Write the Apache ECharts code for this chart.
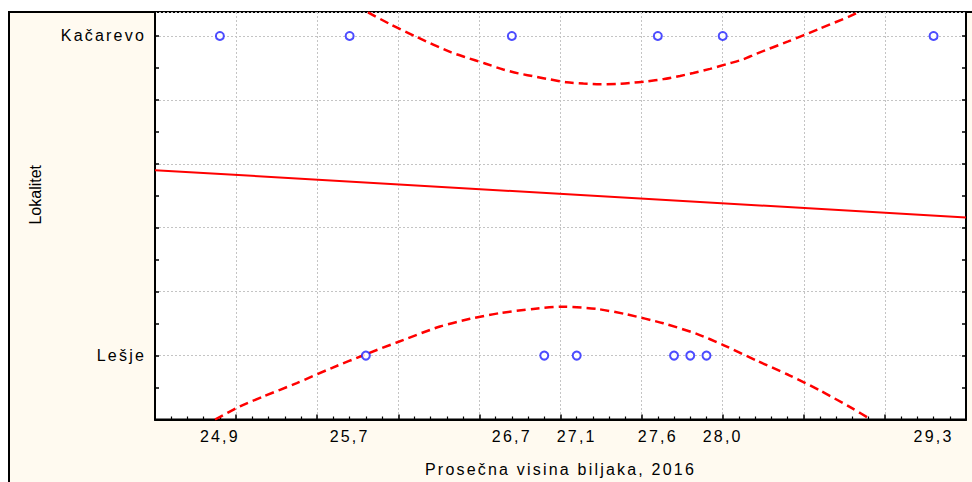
<!DOCTYPE html>
<html>
<head>
<meta charset="utf-8">
<title>Lokalitet</title>
<script src="https://cdn.jsdelivr.net/npm/echarts@6/dist/echarts.min.js"></script>
<style>
html,body{margin:0;padding:0;background:#fff;}
#main{width:972px;height:482px;}
</style>
</head>
<body>
<div id="main"></div>
<script>
// podaci
var kacarevoX = [24.9, 25.7, 26.7, 27.6, 28.0, 29.3];
var lesjeX = [25.8, 26.9, 27.1, 27.7, 27.8, 27.9];
var lokaliteti = ['Lešje', 'Kačarevo'];
var lokalitetKod = [1, 2];
var xTickLabels = [24.9, 25.7, 26.7, 27.1, 27.6, 28.0, 29.3];
// regresiona prava
var regX = [24.5, 29.5];
var regY = [1.58, 1.432];
// granice intervala poverenja (ocitano sa slike)
var gornjaX = [25.813, 25.949, 26.113, 26.319, 26.411, 26.535, 26.647, 26.740, 26.853, 26.935, 27.038, 27.141, 27.244, 27.347, 27.429, 27.532, 27.634, 27.737, 27.819, 27.922, 28.025, 28.127, 28.210, 28.404, 28.589, 28.785, 28.834];
var gornjaY = [2.074, 2.037, 1.997, 1.950, 1.934, 1.914, 1.895, 1.883, 1.872, 1.864, 1.855, 1.851, 1.849, 1.850, 1.853, 1.858, 1.865, 1.875, 1.884, 1.897, 1.912, 1.927, 1.945, 1.983, 2.021, 2.062, 2.074];
var donjaX = [24.870, 25.024, 25.168, 25.374, 25.589, 25.805, 25.990, 26.257, 26.442, 26.627, 26.832, 27.017, 27.223, 27.408, 27.634, 27.840, 28.004, 28.210, 28.404, 28.603, 28.805, 28.908];
var donjaY = [0.800, 0.841, 0.872, 0.914, 0.961, 1.005, 1.041, 1.091, 1.115, 1.133, 1.146, 1.153, 1.146, 1.129, 1.101, 1.068, 1.033, 0.984, 0.940, 0.890, 0.833, 0.802];

var xTitle = 'Prosečna visina biljaka, 2016';
var yTitle = 'Lokalitet';
var font = 'Liberation Sans, Arial, sans-serif';

var zip = function(xs, ys){
    var out = [];
    for(var i=0;i<xs.length;i++){
        out.push([xs[i], ys[i]]);
    }
    return out;
};
var naLokalitet = function(xs, kod){
    var out = [];
    for(var i=0;i<xs.length;i++){
        out.push([xs[i], kod]);
    }
    return out;
};

// pozicije crtica na y osi
var yTicks = [];
for(var i=9;i<=20;i++){
    yTicks.push(i/10);
}

var chart = echarts.init(document.getElementById('main'), null, {renderer: 'svg'});

var gridLine = {show: true, lineStyle: {color: '#c4c4c4', width: 1, type: [2, 2]}};
var yAxisBase = {
    type: 'value',
    min: 0.8,
    max: 2.075,
    interval: 0.2,
    axisLine: {show: true, lineStyle: {color: '#000', width: 2}},
    axisTick: {show: true, inside: true, length: 4, customValues: yTicks, lineStyle: {color: '#000', width: 1.5}},
    minorTick: {show: false},
    splitLine: {show: false}
};

var option = {
    animation: false,
    backgroundColor: 'transparent',
    graphic: [{
        type: 'rect',
        z: -1,
        shape: {x: 9, y: 12, width: 1000, height: 500},
        style: {fill: '#fffaf0', stroke: '#000', lineWidth: 2}
    }],
    grid: {
        left: 155,
        top: 12,
        right: 6,
        bottom: 62.5,
        show: true,
        backgroundColor: '#fff',
        borderColor: '#000',
        borderWidth: 2,
        outerBoundsMode: 'none'
    },
    xAxis: {
        type: 'value',
        min: 24.5,
        max: 29.5,
        interval: 0.5,
        name: xTitle,
        nameLocation: 'middle',
        nameGap: 42,
        nameTextStyle: {fontFamily: font, fontSize: 16, color: '#000'},
        axisLine: {show: true, onZero: false, lineStyle: {color: '#000', width: 2}},
        axisTick: {show: true, inside: true, length: 5, lineStyle: {color: '#000', width: 1.5}},
        minorTick: {show: true, splitNumber: 5, length: 3, lineStyle: {color: '#000', width: 1.2}},
        splitLine: gridLine,
        axisLabel: {
            customValues: xTickLabels,
            margin: 9,
            fontFamily: font,
            fontSize: 16,
            color: '#000',
            formatter: function(v){ return v.toFixed(1).replace('.', ','); }
        }
    },
    yAxis: [
        Object.assign({}, yAxisBase, {
            position: 'left',
            name: yTitle,
            nameLocation: 'middle',
            nameGap: 112,
            nameTextStyle: {fontFamily: font, fontSize: 16, color: '#000', padding: [0, 0, 0, 42]},
            axisLabel: {
                customValues: lokalitetKod,
                margin: 9,
                fontFamily: font,
                fontSize: 16,
                color: '#000',
                formatter: function(v){ return lokaliteti[lokalitetKod.indexOf(v)]; }
            }
        }),
        Object.assign({}, yAxisBase, {
            position: 'right',
            axisLabel: {show: false}
        }),
        // samo horizontalna mreza, svakih 0.2
        {
            type: 'value',
            position: 'right',
            min: 0.8,
            max: 2.075,
            interval: 0.2,
            axisLine: {show: false},
            axisTick: {show: false},
            axisLabel: {show: false},
            splitLine: gridLine
        }
    ],
    series: [
        {
            name: 'regresija',
            type: 'line',
            data: zip(regX, regY),
            symbol: 'none',
            lineStyle: {color: '#ff0000', width: 2},
            z: 3
        },
        {
            name: 'gornja granica',
            type: 'line',
            data: zip(gornjaX, gornjaY),
            symbol: 'none',
            smooth: 0.25,
            lineStyle: {color: '#ff0000', width: 2.5, type: [9, 5]},
            z: 3
        },
        {
            name: 'donja granica',
            type: 'line',
            data: zip(donjaX, donjaY),
            symbol: 'none',
            smooth: 0.25,
            lineStyle: {color: '#ff0000', width: 2.5, type: [9, 5]},
            z: 3
        },
        {
            name: 'Kačarevo',
            type: 'scatter',
            data: naLokalitet(kacarevoX, lokalitetKod[1]),
            symbol: 'emptyCircle',
            symbolSize: 8,
            itemStyle: {color: '#1f1fff', borderWidth: 1.2},
            z: 4
        },
        {
            name: 'Lešje',
            type: 'scatter',
            data: naLokalitet(lesjeX, lokalitetKod[0]),
            symbol: 'emptyCircle',
            symbolSize: 8,
            itemStyle: {color: '#1f1fff', borderWidth: 1.2},
            z: 4
        }
    ]
};

// razmak slova kao na originalu (osim naslova y ose)
var razmakni = function(){
    var texts = document.querySelectorAll('#main text');
    for(var i=0;i<texts.length;i++){
        if(texts[i].textContent !== yTitle){
            texts[i].style.letterSpacing = '2.2px';
        }
    }
};
chart.on('finished', razmakni);
chart.setOption(option);
razmakni();
</script>
</body>
</html>
